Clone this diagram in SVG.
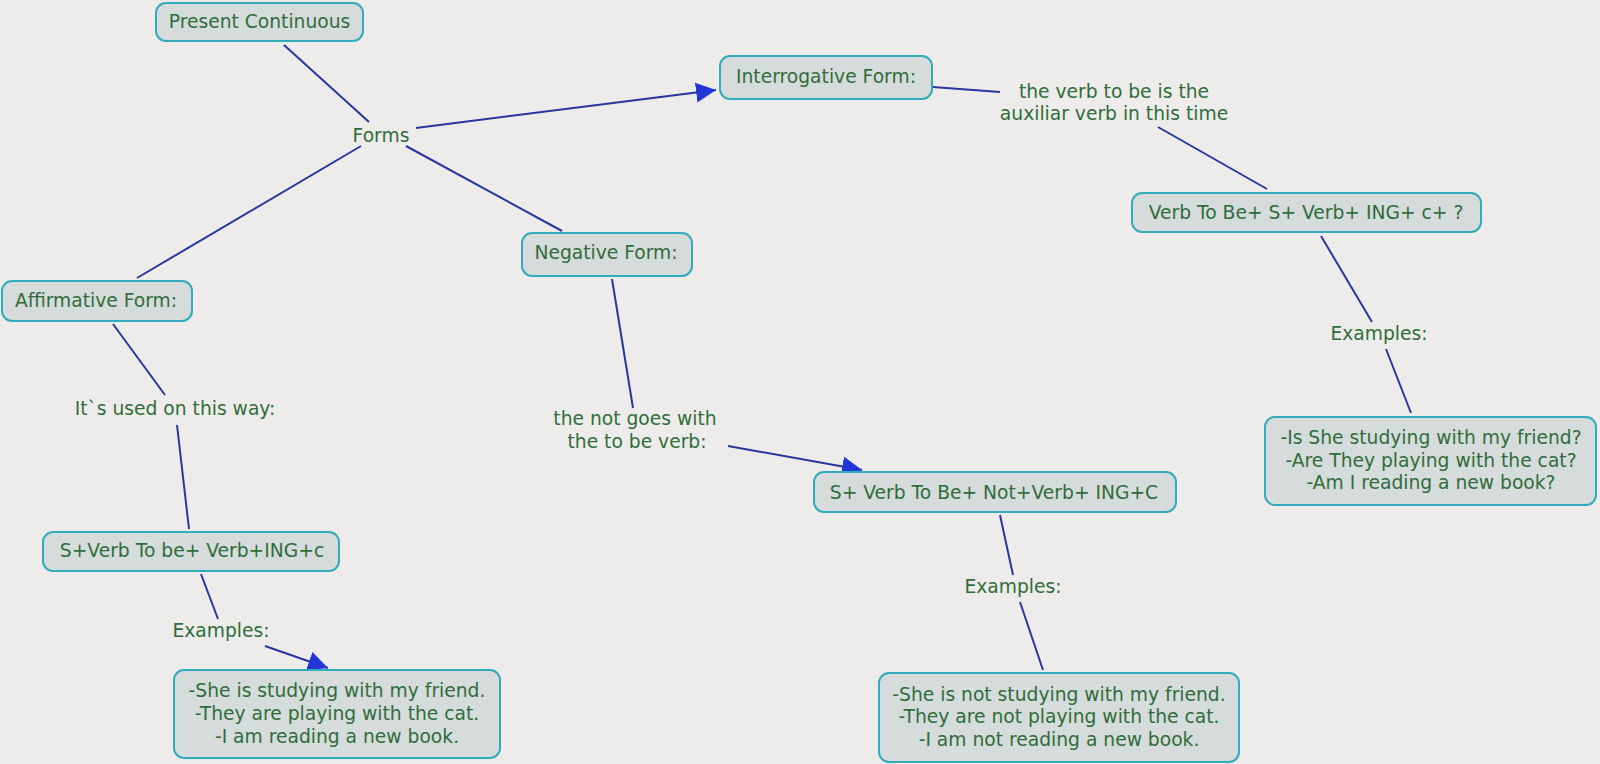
<svg xmlns="http://www.w3.org/2000/svg" width="1600" height="764" viewBox="0 0 1600 764">
<style>
.bg{fill:#eeecea}
.box{fill:#d6dbdb;stroke:#32abbb;stroke-width:2}
.t{font-family:"DejaVu Sans","Liberation Sans",sans-serif;font-size:18.7px;fill:#2f6e3a;text-anchor:middle}
.ln{stroke:#27379e;stroke-width:2;fill:none}
</style>
<defs>
<marker id="ah" markerUnits="userSpaceOnUse" markerWidth="22" markerHeight="22" refX="20" refY="10" orient="auto">
<path d="M0,0 L20,10 L0,20 z" fill="#2236d8"/>
</marker>
</defs>
<rect class="bg" x="0" y="0" width="1600" height="764"/>
<g id="connectors">
<line class="ln" x1="284" y1="45" x2="369" y2="122"/>
<line class="ln" x1="416" y1="128" x2="716" y2="90" marker-end="url(#ah)"/>
<line class="ln" x1="361" y1="146" x2="137" y2="278"/>
<line class="ln" x1="406" y1="146" x2="562" y2="231"/>
<line class="ln" x1="933" y1="87" x2="1000" y2="92"/>
<line class="ln" x1="1158" y1="127" x2="1267" y2="189"/>
<line class="ln" x1="1321" y1="236" x2="1372" y2="322"/>
<line class="ln" x1="1386" y1="349" x2="1411" y2="413"/>
<line class="ln" x1="113" y1="324" x2="165" y2="395"/>
<line class="ln" x1="177" y1="425" x2="189" y2="529"/>
<line class="ln" x1="201" y1="574" x2="218" y2="619"/>
<line class="ln" x1="265" y1="646" x2="328" y2="668" marker-end="url(#ah)"/>
<line class="ln" x1="728" y1="446" x2="862" y2="470" marker-end="url(#ah)"/>
<line class="ln" x1="612" y1="279" x2="633" y2="408"/>
<line class="ln" x1="1000" y1="515" x2="1013" y2="575"/>
<line class="ln" x1="1020" y1="602" x2="1043" y2="670"/>
</g>
<g id="present-continuous"><rect class="box" x="156" y="3" width="207" height="38" rx="10"/><text class="t" x="259.5" y="28">Present Continuous</text></g>
<g id="forms"><text class="t" x="381" y="142">Forms</text></g>
<g id="interrogative-form"><rect class="box" x="720" y="56" width="212" height="43" rx="10"/><text class="t" x="826" y="83">Interrogative Form:</text></g>
<g id="aux-verb"><text class="t" x="1114" y="98">the verb to be is the</text><text class="t" x="1114" y="120">auxiliar verb in this time</text></g>
<g id="interrogative-formula"><rect class="box" x="1132" y="193" width="349" height="39" rx="10"/><text class="t" x="1306" y="219">Verb To Be+ S+ Verb+ ING+ c+ ?</text></g>
<g id="examples-right"><text class="t" x="1379" y="340">Examples:</text></g>
<g id="interrogative-examples"><rect class="box" x="1265" y="417" width="331" height="88" rx="10"/><text class="t" x="1431" y="444">-Is She studying with my friend?</text><text class="t" x="1431" y="467">-Are They playing with the cat?</text><text class="t" x="1431" y="489">-Am I reading a new book?</text></g>
<g id="affirmative-form"><rect class="box" x="2" y="281" width="190" height="40" rx="10"/><text class="t" x="96" y="307">Affirmative Form:</text></g>
<g id="used-way"><text class="t" x="175" y="415">It`s used on this way:</text></g>
<g id="affirmative-formula"><rect class="box" x="43" y="532" width="296" height="39" rx="10"/><text class="t" x="192" y="557">S+Verb To be+ Verb+ING+c</text></g>
<g id="examples-left"><text class="t" x="221" y="637">Examples:</text></g>
<g id="affirmative-examples"><rect class="box" x="174" y="670" width="326" height="88" rx="10"/><text class="t" x="337" y="697">-She is studying with my friend.</text><text class="t" x="337" y="720">-They are playing with the cat.</text><text class="t" x="337" y="743">-I am reading a new book.</text></g>
<g id="negative-form"><rect class="box" x="522" y="233" width="170" height="43" rx="10"/><text class="t" x="606" y="259">Negative Form:</text></g>
<g id="not-goes"><text class="t" x="635" y="425">the not goes with</text><text class="t" x="637" y="448">the to be verb:</text></g>
<g id="negative-formula"><rect class="box" x="814" y="472" width="362" height="40" rx="10"/><text class="t" x="994" y="499">S+ Verb To Be+ Not+Verb+ ING+C</text></g>
<g id="examples-mid"><text class="t" x="1013" y="593">Examples:</text></g>
<g id="negative-examples"><rect class="box" x="879" y="673" width="360" height="89" rx="10"/><text class="t" x="1059" y="701">-She is not studying with my friend.</text><text class="t" x="1059" y="723">-They are not playing with the cat.</text><text class="t" x="1059" y="746">-I am not reading a new book.</text></g>
</svg>
